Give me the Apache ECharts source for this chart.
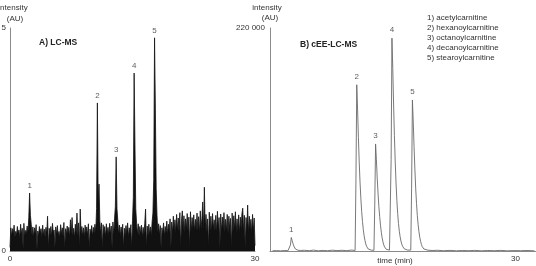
<!DOCTYPE html>
<html><head><meta charset="utf-8">
<script src="https://cdn.jsdelivr.net/npm/echarts@6/dist/echarts.min.js"></script>
<style>html,body{margin:0;padding:0;background:#fff}#c{width:536px;height:266px}</style>
</head><body><div id="c"></div>
<script>
// Panel A (LC-MS): intensity (AU) sampled every 0.1 min from 0 to 30 min
const stepA = 0.1;
const intensityA = [
0.08,0.52,0.33,0.50,0.38,0.58,0.30,0.44,0.36,0.55,
0.40,0.47,0.29,0.60,0.37,0.51,0.05,0.62,0.33,0.46,
0.39,0.56,0.42,0.75,1.30,0.80,0.60,0.35,0.54,0.31,
0.52,0.38,0.59,0.03,0.45,0.34,0.55,0.40,0.50,0.30,
0.58,0.37,0.49,0.31,0.53,0.39,0.78,0.06,0.51,0.35,
0.55,0.33,0.62,0.41,0.47,0.07,0.54,0.38,0.57,0.34,
0.44,0.30,0.59,0.39,0.52,0.33,0.64,0.05,0.50,0.37,
0.56,0.40,0.53,0.31,0.70,0.38,0.75,0.35,0.51,0.29,
0.60,0.39,0.85,0.33,0.63,0.07,0.94,0.37,0.55,0.34,
0.52,0.30,0.58,0.40,0.54,0.35,0.61,0.06,0.49,0.38,
0.57,0.33,0.53,0.39,0.60,0.42,0.95,3.32,1.10,1.50,
0.68,0.40,0.63,0.05,0.59,0.37,0.55,0.31,0.61,0.39,
0.53,0.34,0.62,0.38,0.56,0.06,0.65,0.36,0.72,1.00,
2.11,0.95,0.68,0.38,0.58,0.33,0.54,0.40,0.60,0.07,
0.51,0.36,0.57,0.39,0.63,0.31,0.52,0.38,0.59,0.05,
0.68,1.20,3.99,2.40,0.95,0.62,0.37,0.61,0.33,0.55,
0.39,0.58,0.30,0.53,0.37,0.62,0.94,0.06,0.56,0.34,
0.60,0.38,0.54,0.33,0.65,0.85,1.60,4.78,3.20,1.40,
0.80,0.42,0.61,0.36,0.57,0.07,0.52,0.39,0.63,0.33,
0.55,0.40,0.67,0.37,0.60,0.42,0.72,0.06,0.65,0.41,
0.78,0.46,0.70,0.40,0.82,0.48,0.74,0.43,0.86,0.08,
0.69,0.90,0.47,0.79,0.41,0.72,0.50,0.84,0.44,0.76,
0.07,0.88,0.46,0.75,0.51,0.81,0.43,0.71,0.47,0.85,
0.45,0.77,0.40,0.90,0.50,0.73,1.10,0.44,1.43,0.49,
0.82,0.41,0.72,0.08,0.87,0.46,0.78,0.43,0.84,0.50,
0.70,0.45,0.80,0.40,0.89,0.49,0.75,0.06,0.83,0.44,
0.76,0.50,0.86,0.41,0.71,0.46,0.82,0.39,0.78,0.51,
0.73,0.07,0.85,0.42,0.79,0.49,0.88,0.41,0.72,0.45,
0.81,0.40,0.76,0.50,0.84,0.96,0.44,0.80,0.05,0.75,
0.46,1.03,0.41,0.78,0.49,0.71,0.39,0.82,0.43,0.74,
0.12
];

// Panel B (cEE-LC-MS): time (min) and intensity (AU)
const timeB = [0.3,0.8,1.3,1.8,2.2,2.4,2.5,2.6,2.7,2.8,2.9,3.0,3.1,3.2,3.4,3.7,4.2,4.8,5.3,5.9,6.5,7.0,7.6,8.2,8.8,9.4,9.9,
10.4,10.5,10.6,10.7,10.8,10.9,11.0,11.1,11.2,11.3,11.4,11.5,11.6,11.7,11.8,11.9,12.0,12.2,12.4,12.6,
12.7,12.8,12.9,13.0,13.1,13.2,13.3,13.4,13.5,13.6,13.7,13.8,13.9,14.0,14.1,14.2,14.4,14.6,
14.7,14.8,14.9,15.0,15.1,15.2,15.3,15.4,15.5,15.6,15.7,15.8,15.9,16.0,16.1,16.2,16.3,16.4,16.6,16.8,17.0,
17.2,17.3,17.4,17.5,17.6,17.7,17.8,17.9,18.0,18.1,18.2,18.3,18.4,18.5,18.6,18.7,18.8,19.0,19.3,
19.8,20.5,21.2,22.0,22.8,23.5,24.3,25.0,25.8,26.6,27.4,28.2,29.0,29.8,30.6,31.4,32.3];
const intensityB = [200,400,150,500,300,300,6000,13300,10500,7500,5000,3200,2000,1300,800,500,700,300,900,200,600,250,800,400,700,300,900,
600,70000,164000,140000,112000,88000,68000,52000,39000,29000,21000,15000,10500,7000,4600,3000,2000,1200,800,600,
700,45000,105600,90000,72000,57000,44000,34000,25500,18500,13000,9000,6000,4000,2600,1700,1000,900,
1200,90000,210000,180000,145000,114000,88000,67000,50000,37000,27000,19500,14000,9800,6800,4700,3200,2200,1300,900,700,
900,62000,149000,128000,103000,81000,62000,47000,35000,26000,19000,13500,9500,6500,4400,3000,2000,1200,800,
500,700,300,600,200,500,300,600,200,500,300,600,200,400,300,500,200];

const peakLabels = ['1','2','3','4','5'];
const peakTimesA = [2.4, 10.7, 13.0, 15.2, 17.7];
const peakHeightsA = [1.30, 3.32, 2.11, 3.99, 4.78];
const peakTimesB = [2.6, 10.6, 12.9, 14.9, 17.4];
const peakHeightsB = [13300, 164000, 105600, 210000, 149000];
const compounds = ['1) acetylcarnitine','2) hexanoylcarnitine','3) octanoylcarnitine','4) decanoylcarnitine','5) stearoylcarnitine'];
const xAxisTitleB = 'time (min)';
const yMaxA = 5, yMaxB = 220000, xMaxA = 30, xLabelB = 30;

const FONT = 'Liberation Sans, Arial, sans-serif';
const TXT = '#333';
const chart = echarts.init(document.getElementById('c'), null, {renderer:'canvas'});

const axisLineStyle = {lineStyle:{color:'#8a8a8a', width:1}};
const labelStyle = {fontSize:8, color:TXT, fontFamily:FONT};

const graphics = [
  {type:'text', x:13, y:8, style:{text:'intensity', font:'8px '+FONT, fill:TXT, textAlign:'center', textVerticalAlign:'middle'}},
  {type:'text', x:15, y:19, style:{text:'(AU)', font:'8px '+FONT, fill:TXT, textAlign:'center', textVerticalAlign:'middle'}},
  {type:'text', x:267, y:8, style:{text:'intensity', font:'8px '+FONT, fill:TXT, textAlign:'center', textVerticalAlign:'middle'}},
  {type:'text', x:270, y:18, style:{text:'(AU)', font:'8px '+FONT, fill:TXT, textAlign:'center', textVerticalAlign:'middle'}},
  {type:'text', x:39, y:43, style:{text:'A) LC-MS', font:'bold 8.5px '+FONT, fill:'#222', textVerticalAlign:'middle'}},
  {type:'text', x:300, y:45, style:{text:'B) cEE-LC-MS', font:'bold 8.5px '+FONT, fill:'#222', textVerticalAlign:'middle'}},
  {type:'text', x:395, y:261, style:{text:xAxisTitleB, font:'8px '+FONT, fill:TXT, textAlign:'center', textVerticalAlign:'middle'}}
];
compounds.forEach((c,i)=>graphics.push({type:'text', x:427, y:18+i*10, style:{text:c, font:'8px '+FONT, fill:TXT, textVerticalAlign:'middle'}}));

chart.setOption({
  animation:false,
  backgroundColor:'#fff',
  grid:[
    {left:10, top:28, width:245, height:223, outerBoundsMode:'none', containLabel:false},
    {left:270, top:28, width:266, height:223, outerBoundsMode:'none', containLabel:false}
  ],
  xAxis:[
    {gridIndex:0, type:'value', min:0, max:xMaxA, interval:xMaxA, axisLine:axisLineStyle, axisTick:{show:false}, splitLine:{show:false},
     axisLabel:Object.assign({margin:4}, labelStyle)},
    {gridIndex:1, type:'value', min:0, max:32.5, interval:2.5, axisLine:axisLineStyle, axisTick:{show:false}, splitLine:{show:false},
     axisLabel:Object.assign({margin:4, formatter:v=>v===xLabelB?String(xLabelB):''}, labelStyle)}
  ],
  yAxis:[
    {gridIndex:0, type:'value', min:0, max:yMaxA, interval:yMaxA, axisLine:Object.assign({show:true}, axisLineStyle), axisTick:{show:false}, splitLine:{show:false},
     axisLabel:Object.assign({margin:4}, labelStyle)},
    {gridIndex:1, type:'value', min:0, max:yMaxB, interval:yMaxB, axisLine:Object.assign({show:true}, axisLineStyle), axisTick:{show:false}, splitLine:{show:false},
     axisLabel:Object.assign({margin:5, formatter:v=>v===yMaxB?'220 000':''}, labelStyle)}
  ],
  series:[
    {type:'line', xAxisIndex:0, yAxisIndex:0, symbol:'none', silent:true, sampling:null,
     lineStyle:{color:'#111', width:0.8}, areaStyle:{color:'#111', opacity:1},
     data:intensityA.map((v,i)=>[+(i*stepA).toFixed(1), v])},
    {type:'line', xAxisIndex:1, yAxisIndex:1, symbol:'none', silent:true,
     lineStyle:{color:'#6a6a6a', width:0.9}, data:timeB.map((t,i)=>[t, intensityB[i]])},
    {type:'scatter', xAxisIndex:0, yAxisIndex:0, symbolSize:0, silent:true,
     label:{show:true, position:'top', distance:3, fontSize:8, color:TXT, fontFamily:FONT},
     data:peakTimesA.map((t,i)=>({value:[t, peakHeightsA[i]], label:{formatter:peakLabels[i]}}))},
    {type:'scatter', xAxisIndex:1, yAxisIndex:1, symbolSize:0, silent:true,
     label:{show:true, position:'top', distance:4, fontSize:8, color:TXT, fontFamily:FONT},
     data:peakTimesB.map((t,i)=>({value:[t, peakHeightsB[i]], label:{formatter:peakLabels[i]}}))}
  ],
  graphic:graphics
});
</script></body></html>
